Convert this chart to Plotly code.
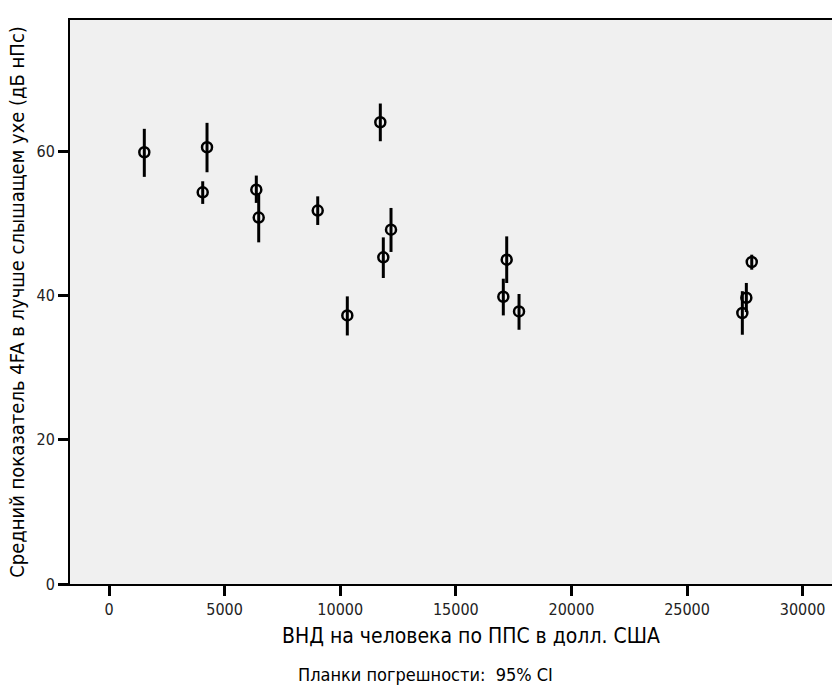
import numpy as np
import plotly.graph_objects as go

gni = [1527, 4239, 4053, 6371, 6475, 9027, 11734, 12197, 11864, 10307,
       17201, 17054, 17734, 27799, 27565, 27392]
mean_4fa = [59.86, 60.56, 54.31, 54.68, 50.80, 51.77, 64.02, 49.13, 45.29, 37.24,
            44.97, 39.83, 37.79, 44.65, 39.69, 37.57]
ci_low = [56.45, 57.09, 52.70, 52.84, 47.37, 49.78, 61.39, 46.04, 42.43, 34.46,
          41.73, 37.24, 35.25, 43.58, 37.70, 34.56]
ci_high = [63.11, 63.94, 55.84, 56.63, 54.20, 53.75, 66.62, 52.14, 48.06, 39.88,
           48.20, 42.33, 40.21, 45.66, 41.74, 40.60]

x_ticks = [0, 5000, 10000, 15000, 20000, 25000, 30000]
y_ticks = [0, 20, 40, 60]

m = np.array(mean_4fa)
plus = np.array(ci_high) - m
minus = m - np.array(ci_low)

FONT = "DejaVu Sans Condensed, Liberation Sans, sans-serif"

fig = go.Figure()
fig.add_trace(go.Scatter(
    x=gni, y=mean_4fa, mode="markers",
    marker=dict(symbol="circle-open", size=10, color="black", line=dict(width=2.5, color="black")),
    error_y=dict(type="data", array=plus, arrayminus=minus, visible=True,
                 color="black", thickness=3, width=0),
    showlegend=False, hoverinfo="skip",
))

PW = 762.0
PH = 564.0

fig.update_layout(
    width=832, height=689,
    margin=dict(l=70, r=0, t=20, b=105),
    paper_bgcolor="white", plot_bgcolor="#F0F0F0",
    font=dict(family=FONT, color="black"),
    xaxis=dict(range=[-1687, 31270], tickvals=x_ticks, ticktext=[str(v) for v in x_ticks],
               showgrid=False, zeroline=False, showline=True, linecolor="black", linewidth=2,
               mirror=True, ticks="outside", ticklen=10, tickwidth=3, tickcolor="black",
               tickfont=dict(family=FONT, size=16, color="#222")),
    yaxis=dict(range=[0, 78.2], tickvals=y_ticks, ticktext=[str(v) for v in y_ticks],
               showgrid=False, zeroline=False, showline=True, linecolor="black", linewidth=2,
               ticks="outside", ticklen=10, tickwidth=3, tickcolor="black",
               tickfont=dict(family=FONT, size=16, color="#222"),
               title=dict(text="Средний показатель 4FA в лучше слышащем ухе (дБ нПс)",
                          font=dict(family=FONT, size=20, color="black"), standoff=6)),
    annotations=[
        dict(text="ВНД на человека по ППС в долл. США", xref="paper", yref="paper",
             x=(471 - 70) / PW, y=-(636 - 584) / PH, xanchor="center", yanchor="middle",
             showarrow=False, font=dict(family=FONT, size=21, color="black")),
        dict(text="Планки погрешности:  95% CI", xref="paper", yref="paper",
             x=(425.5 - 70) / PW, y=-(674 - 584) / PH, xanchor="center", yanchor="middle",
             showarrow=False, font=dict(family=FONT, size=18, color="black")),
    ],
)

fig.write_html("out.html")
